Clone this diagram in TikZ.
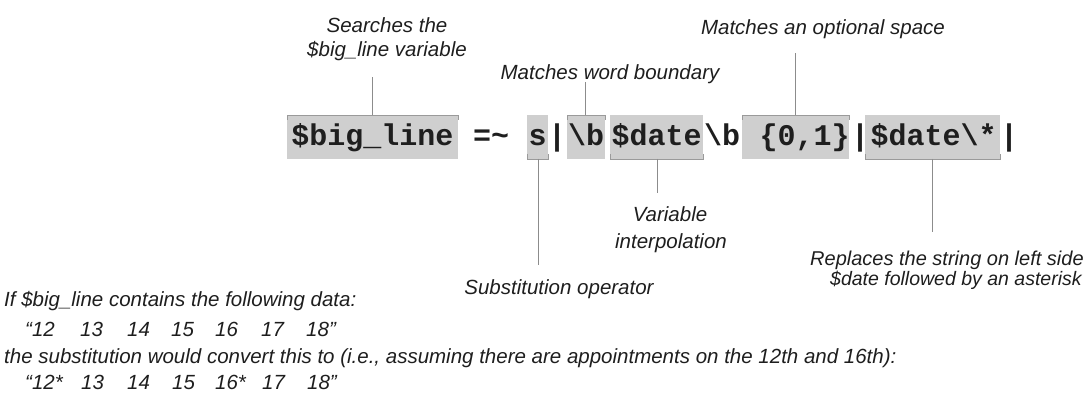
\documentclass[tikz,border=0pt]{standalone}
\usepackage{fontspec}
\setmainfont{Liberation Sans}
\newfontfamily\codefont{Liberation Mono}
\usetikzlibrary{calc}
\definecolor{boxgray}{HTML}{CFCFCF}
\definecolor{brkgray}{HTML}{9A9A9A}
\definecolor{linegray}{HTML}{8C8C8C}
\definecolor{ink}{HTML}{1E1E1E}
\begin{document}
\begin{tikzpicture}[x=1pt,y=-1pt,
  hl/.style={fill=boxgray, draw=none, inner sep=0pt, outer sep=0pt, minimum height=44pt, anchor=north west},
  code/.style={font=\codefont\bfseries\fontsize{30}{30}\selectfont, inner sep=0pt, anchor=base, text=ink},
  lbl/.style={font=\itshape\fontsize{20.5}{24}\selectfont, inner sep=0pt, anchor=base, text=ink},
  lblw/.style={lbl, anchor=base west},
  leader/.style={draw=linegray, line width=0.9pt},
  brk/.style={draw=brkgray, line width=0.9pt}]
\useasboundingbox (0,0) rectangle (1092,398);
% highlighted boxes
\node[hl, minimum width=171pt] (b1) at (287,115) {};
\node[hl, minimum width=21pt]  (b2) at (527,115) {};
\node[hl, minimum width=38pt]  (b3) at (567,115) {};
\node[hl, minimum width=93pt]  (b4) at (610,115) {};
\node[hl, minimum width=107pt] (b5) at (742,115) {};
\node[hl, minimum width=135pt] (b6) at (865,115) {};
% brackets
\draw[brk] ($(b1.north west)+(0,5)$) |- (b1.north east) -- ++(0,5);
\draw[brk] ($(b3.north west)+(0,5)$) |- (b3.north east) -- ++(0,5);
\draw[brk] ($(b5.north west)+(0,5)$) |- (b5.north east) -- ++(0,5);
\draw[brk] ($(b2.south west)+(0,-5)$) |- (b2.south east) -- ++(0,-5);
\draw[brk] ($(b4.south west)+(0,-5)$) |- (b4.south east) -- ++(0,-5);
\draw[brk] ($(b6.south west)+(0,-5)$) |- (b6.south east) -- ++(0,-5);
% code text
\node[code] (c1) at (372.5,146) {\$big\_line};
\node[code] (c2) at (491,146) {=\textasciitilde};
\node[code] (c3) at (537.5,146) {s};
\node[code] (c4) at (557,146) {|};
\node[code] (c5) at (586,146) {\textbackslash b};
\node[code] (c6) at (656.5,146) {\$date};
\node[code] (c7) at (722,146) {\textbackslash b};
\node[code] (c8) at (804.5,146) {\{0,1\}};
\node[code] (c9) at (860,146) {|};
\node[code] (c10) at (933.5,146) {\$date\textbackslash *};
\node[code] (c11) at (1009,146) {|};
% labels
\node[lbl] (l1a) at (387,33) {Searches the};
\node[lbl] (l1b) at (387,57) {\$big\_line variable};
\node[lbl] (l2) at (610,80) {Matches word boundary};
\node[lbl] (l3) at (823,35) {Matches an optional space};
\node[lbl] (l4) at (559,294) {Substitution operator};
\node[lbl] (l5a) at (670,222) {Variable};
\node[lbl] (l5b) at (671,248) {interpolation};
\node[lblw, font=\itshape\fontsize{20}{24}\selectfont] (l6a) at (810,265) {Replaces the string on left side};
\node[lblw, font=\itshape\fontsize{19.5}{24}\selectfont] (l6b) at (830,285) {\$date followed by an asterisk};
% leader ends
\coordinate (e1) at (372,77);
\coordinate (e2) at (585,82);
\coordinate (e3) at (795,53);
\coordinate (e4) at (538,265);
\coordinate (e5) at (657,193);
\coordinate (e6) at (932,232);
\draw[leader] (b1.north -| e1) -- (e1);
\draw[leader] (b3.north -| e2) -- (e2);
\draw[leader] (b5.north -| e3) -- (e3);
\draw[leader] (b2.south -| e4) -- (e4);
\draw[leader] (b4.south -| e5) -- (e5);
\draw[leader] (b6.south -| e6) -- (e6);
% bottom text
\node[lblw] (p1) at (4,306) {If \$big\_line contains the following data:};
\node[lblw] (p3) at (4,363) {the substitution would convert this to (i.e., assuming there are appointments on the 12th and 16th):};
\node[lblw] (r1) at (25,336) {“12};
\node[lblw] (r2) at (80,336) {13};
\node[lblw] (r3) at (127,336) {14};
\node[lblw] (r4) at (171,336) {15};
\node[lblw] (r5) at (215,336) {16};
\node[lblw] (r6) at (261,336) {17};
\node[lblw] (r7) at (306,336) {18”};
\node[lblw] (s1) at (25,389) {“12*};
\node[lblw] (s2) at (81,389) {13};
\node[lblw] (s3) at (127,389) {14};
\node[lblw] (s4) at (172,389) {15};
\node[lblw] (s5) at (215,389) {16*};
\node[lblw] (s6) at (262,389) {17};
\node[lblw] (s7) at (307,389) {18”};
\end{tikzpicture}
\end{document}
